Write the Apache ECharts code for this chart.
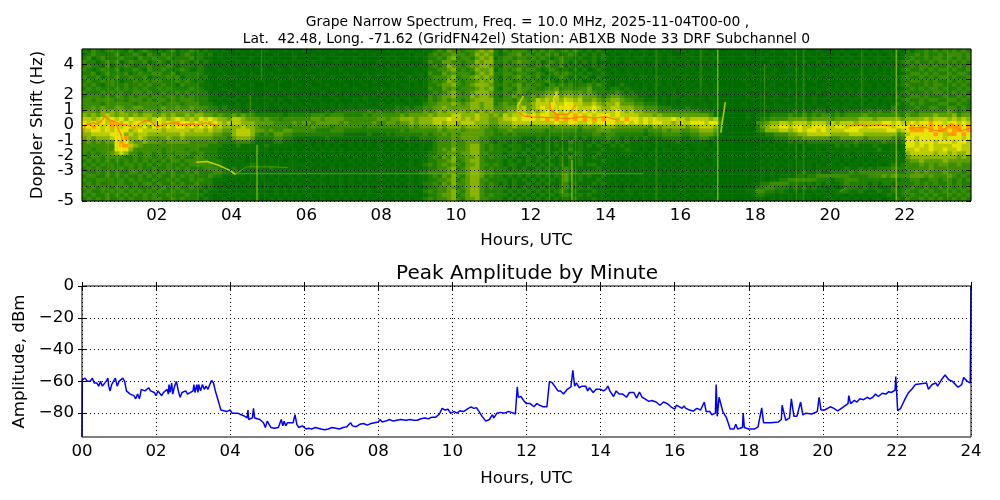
<!DOCTYPE html>
<html>
<head>
<meta charset="utf-8">
<style>
html, body { margin: 0; padding: 0; background: #fff; }
#chart { width: 1000px; height: 500px; }
</style>
<script src="https://cdn.jsdelivr.net/npm/echarts@6/dist/echarts.min.js"></script>
</head>
<body>
<div id="chart"></div>
<script>
// spectrogram intensity 0-9, one string per 0.25 Hz row from +5 Hz down to -5 Hz
// each group is 2 hours, each digit is 7.5 minutes
var specRows = [
  '2132123221312321 2123122321211010 0100100100010001 0010000100100000 0100101001123243 3233454521323332 3232322323212121 1011010110101001 1010110100000000 0001001000100100 0010010101011010 21223232323232',
  '1232212312232132 1322123212120101 0010010001000100 0100010000010010 0010010110232334 3323545421233423 2323231232121212 0101101010110100 0110101000000100 0010000100010010 0101001010101101 22323223233323',
  '2312312232213223 2231222312110100 1000100010000100 0001000100100000 0101000101223245 2332454512332332 3232123221211212 1010101101010110 1010110100000010 0100010010001000 0010100101110101 23223233232323',
  '3221232312322312 3212232121210010 0101000100010010 0100001000010001 0010110001322443 3233545522323433 2312323212121201 0110110100110101 0101001010000000 0001001000100101 0101010110101012 32322323323232',
  '2322131223212232 2232122212101001 0010010001001000 0010010001000010 0100101010232354 3234455421332332 2323223121211212 1001011010101010 0110101000000001 0010000100010010 0010110101011011 23233232232323',
  '3212322312232132 2321232112100100 0100001000100100 1000100100010000 0011010101223345 2323544512323423 3212321212120121 0110101101010101 1010100100000100 0100100010000101 0101001011010102 32232323323223',
  '2231232223123223 3223122222110010 0010100010000010 0001000010001001 0100100110322434 3332454522332332 2321232321212112 1010110101001011 0101011000000010 0001000100100010 1010101010110101 23323232232332',
  '3223122322322312 2232312221200101 1000010001001000 0100010001000100 0010011010233345 2334545421323423 2312123212121021 0101010110110100 1010100100000001 0010001000010100 0101010101011012 32232323323223',
  '2322323212232323 3222323212100010 0010001000100100 0010000100010010 0101001101232354 3233454521332332 3223212121201212 1011010101010101 0101101000000100 0100010010001001 0010101101010102 23323232232323',
  '3232123223223232 2322132221110100 0100100010000010 1000100010001000 0010110101223445 3234555422323423 2321323231223232 1012101010110101 1010110100000010 0001001000100010 0101010110101012 32223233223232',
  '2323222323232322 3232222322110010 0010000100100100 0100010000100010 1010010110322434 2333454521332433 3223342332334222 1221211010101010 0101010100000001 0010010001001001 0101101010110101 23232332322323',
  '3222323232233232 2322323222201001 1000100010010000 0001001000010001 0101100101232345 3234555422323432 3334453443434322 2232121101010110 1011010100000100 0001000100100100 1010101101010112 32223233223232',
  '2333232332323323 3233232322211010 0101000100001001 0100010010001010 1010110110323445 3335455421334333 4345564554544432 3443222110101011 0110101000000010 0100100010001001 0101011010101021 23323222322323',
  '3323333232333232 3323233322210101 1010010010100100 0010001000101001 0101011011323434 3234555522332443 4656565665644543 4554332211101010 1011101100000001 0001001001001010 1010110101011012 32232332233232',
  '3333233333323333 3233323332221010 0101100101010010 1001010101010101 1011101112334445 4345545523433544 5666766776655654 5564443322211010 1110110100000100 0100100010101001 0101101011010121 23232223322322',
  '3343433443344333 3433433433322121 1101010100101001 0101010101011010 1112121223344544 4445545533444564 5676767777666765 5665554433322211 1211110100000000 0010110101010110 1011010110110211 22322332233232',
  '4443545454443444 3444444434333222 2211211110101111 1111212222222323 2223233334345455 5545454544455665 6567676767676766 6676565544433333 3333222100000000 0101111121212221 1212222232322322 33233333343233',
  '5454565455454554 4545445455443433 4343322222212222 2333233322223233 3333434444545556 6555655454656676 7677687678767677 7676666555454444 4444443100000010 1112222322323233 2323333433333332 43344454445344',
  '6656767675766656 7656765657676554 6654443433233333 3443444433333334 4344555455566676 6565655445667677 7678787878787878 7767877676766676 6566665620000010 1223333444434444 3444445554555554 55556566656565',
  '7676768767677676 7676877676767656 6655544443333434 4344444343333343 3443445455566566 5666555445556666 6666676677667677 7766767676776656 6677767730000100 3345566566656665 6566656666677676 67677877677676',
  '7787678767776757 7676776767675655 5565543333332333 3433323333332333 3333334344445455 5455544334445444 4444344444344445 5544444443545555 5455666520000000 2456677677667776 6776777677777677 78787878788878',
  '6677676777567666 6566666566565544 5666544343344333 3322233322222222 2222323333334344 4344443323343333 3332333333233344 4333333323334344 3344555410000000 2355566567677676 6667776666667756 78887878878878',
  '5566667775656655 5555565555554433 5666532324433222 2222222211111211 1212222223233434 3444443322323222 2222222222222332 3322222212223333 2233444310000000 1122333445566666 5555666555555534 67777787688787',
  '4545556778556544 4454454444443332 4555422223322111 1111211111111111 1111121122223334 3444433222222211 1212112212121222 3221212121112222 1122332100000000 0111222333444444 3344444344444323 77677777677767',
  '3434344787544544 4344444333333222 2333211112211101 1010110101010101 0101011111123334 3344433212212112 1212121131211212 2121211111111112 1111110100000000 0010111212122222 2222232222232212 77677767776776',
  '3333333788654333 3333333333322211 1211111211111010 1010101001010101 1010101011123334 3345532322122211 2112121121212121 1212111111011011 1011110100000000 0101010110111111 1212121112111101 77676766667766',
  '3323333777533333 3233332332222111 1111111101010101 0101010100101010 0101010110123435 3345532322212212 1212112131211112 1111211010101101 0101101000000000 0010101010101101 1111111111211101 66766766766766',
  '3232334565332332 3232333223222111 1111010101010101 1010010101010101 1010101011223344 3445533222122121 2112121212211121 1101110101101010 1101010100000000 0101010101010110 1011011101111110 56666656656556',
  '3233233332232332 3233232233222111 1110101010101010 0101001010100101 0101011101232435 3344532322212112 1221212131211211 1110101101010101 0110101000000000 0010101010101011 0101101011011110 45555555555454',
  '2323232323232323 2323323333322211 1110101010101100 1010101001010101 1010101011223345 2345532222121212 1212112121211112 1101010110101010 1010100100000000 0101010101011010 1101011010111111 34454444544444',
  '3232323223323232 3232232333332211 1111211111111111 0101010100101010 0101011012323434 3244533232122112 2121212121212211 1010101101010101 0101010100000000 0010101101010101 1010110101101212 33343434433433',
  '2323223232323223 2232323222333211 2111111121111101 1010010101010101 1010101101223345 2345532322212121 1212121321111121 1101010110101010 1010101000000000 0101010101010111 1112112121222322 33333433333333',
  '3223232322332323 2323223232223322 2211111111111111 1111111111111111 1111111122333344 3345543322222222 2222122322122222 1111111111110101 0101010100000000 0101010111211211 2222323333333322 33434333433323',
  '2332232323223232 3223232322232211 1110101010101010 0101010101010101 0101011011232435 3245542322121212 1212122421212112 1010101101010101 1010101000000000 0101011112122333 3333222233343433 34443433343232',
  '3223323232323223 2232322323221110 1010101001010101 1010010101010101 1010101011223345 2345533222212121 2121212421211121 1101010110101010 0101010100000000 0101122333333222 1223332222222212 23322332332323',
  '2323223232232332 3223232232221101 0101010110101010 0101010101001010 0101011012232435 3345532321212112 1212112312111212 1010101101010101 1010101000000001 1223333222121212 1123222212122122 22323232232322',
  '3232322323232223 2322322322121010 1010010101010101 1010100101010101 1010101101223344 2345532322212121 2121212321212111 0110101010110101 0101010100000000 2233222121212110 1012221212111212 23223223232323',
  '2322323232323232 3223232221211001 0101101001010101 0101010101010100 0101011012323345 3245532222121212 1212123212111211 1010110101010101 1010101000000011 3322121010101010 1122112111211212 32232322323232',
  '3232232323232323 2232223222110100 1010010101010010 1010010101010101 1010101101223445 2345532322212121 2121212321212111 0101010110101010 0101011000000001 2211010101010101 0110101011012112 23223232232323',
  '2323232232322323 3223232221210010 0101010010101010 0101001010101010 0101010112323345 3244533222121212 1212121212111211 1010101010110101 1010100100000000 1101010101010010 1011010101101121 32232323223232'
];

// strong traces in the spectrogram, [hour, Hz]
var orangeTraces = [
  [[0.02, -1], [0.05, -0.3], [0.1, 0], [0.2, 0.05], [0.3, 0.15], [0.4, 0.05], [0.5, 0.2], [0.62, 0.6], [0.7, 0.35], [0.85, 0.25], [1.0, 0.05], [1.2, 0], [1.4, -0.2], [1.55, 0.1], [1.7, 0.3], [1.85, 0.2], [2.0, -0.15], [2.1, -0.05], [2.3, 0.1], [2.5, 0.15], [2.65, 0], [2.8, 0.05], [3.0, 0.05], [3.15, 0], [3.3, 0.15], [3.45, 0.05], [3.6, 0]],
  [[0.9, 0.1], [0.98, -0.3], [1.05, -0.7], [1.09, -1.1]],
  [[11.67, 0.85], [11.82, 0.58], [12.05, 0.53], [12.4, 0.5], [12.67, 0.47], [13, 0.42], [13.4, 0.55], [13.7, 0.45], [14, 0.55], [14.35, 0.3]],
  [[12.5, 1.58], [12.53, 1.0], [12.7, 0.7], [13, 0.7], [13.2, 1.3]],
  [[20.5, -0.05], [20.8, 0], [21, -0.05], [21.3, 0], [21.65, -0.05]],
  [[22.1, -0.2], [22.55, -0.15], [22.8, -0.35], [23, -0.4], [23.25, 0.1], [23.5, -0.4], [23.75, -0.2]]
];
var yellowTraces = [
  [[11.8, 1.9], [11.65, 1.25], [11.67, 0.85]],
  [[12.7, 2.2], [12.6, 1.7], [12.7, 1.0]],
  [[13.2, 1.2], [13, 1.0], [12.9, 1.8]],
  [[1.05, -1.2], [1.05, -1.9]],
  [[3.05, -2.45], [3.35, -2.4], [3.65, -2.65], [3.97, -3], [4.1, -3.25]]
];
var faintTraces = [
  [[1.3, -0.4], [1.5, -0.6], [1.9, -0.7], [2.0, -0.3]],
  [[4.1, -3.25], [4.4, -2.75], [4.65, -2.75], [5.1, -2.75], [5.5, -2.8]],
  [[4, -3.2], [15, -3.2]],
  [[20.25, -4.4], [20.45, -4.1]]
];

// vertical streaks, [hour, from Hz, to Hz]
var brightStreaks = [
  [17.0, -5, 5],
  [21.77, -5, 5],
  [13.1, -5, -2.3],
  [4.68, -5, -1.3]
];
var faintStreaks = [
  [0.7, -5, 5], [0.95, -5, 5], [12.5, -5, 5], [12.85, -5, 5], [13.2, -5, 5], [15.35, -5, 5],
  [16.55, 2, 5], [18.25, 0, 4], [19.1, -5, 5], [19.3, -5, 5], [4.8, 3, 5], [4.5, 0.5, 2],
  [12.85, -4.5, -2.5], [3.1, -5, 5], [2.4, -5, 5], [23.15, -5, 5], [20.85, 0, 5]
];
var slantStreak = [[17.08, -0.5], [17.2, 1.5]];

// peak amplitude, [hour, dBm]
var ampPoints = [
  [0, -95], [0.01, -59], [0.08, -58], [0.15, -60], [0.22, -60], [0.28, -58], [0.33, -61], [0.4, -61], [0.45, -63], [0.5, -60], [0.55, -63], [0.6, -64], [0.65, -60], [0.7, -58], [0.72, -63], [0.76, -66], [0.8, -62], [0.85, -63], [0.9, -58], [0.95, -63], [1.0, -60], [1.05, -61], [1.1, -58], [1.15, -60],
  [1.2, -66], [1.25, -67], [1.3, -68], [1.35, -67], [1.4, -69], [1.45, -71], [1.5, -68], [1.55, -71], [1.6, -65], [1.65, -66], [1.7, -66], [1.75, -65], [1.8, -64], [1.85, -66], [1.95, -67], [2.0, -69], [2.05, -66], [2.1, -67], [2.15, -69], [2.2, -67], [2.25, -66], [2.3, -65], [2.33, -68], [2.35, -62], [2.38, -67], [2.42, -61], [2.45, -68], [2.5, -63], [2.55, -60], [2.6, -66], [2.65, -70], [2.7, -67], [2.8, -66], [2.85, -68], [2.9, -68], [3.0, -66], [3.02, -62], [3.05, -67], [3.1, -62], [3.13, -67], [3.15, -62], [3.2, -66], [3.25, -62], [3.3, -65], [3.35, -63], [3.4, -65], [3.45, -62], [3.5, -59.5], [3.55, -61],
  [3.6, -66], [3.65, -70], [3.7, -74], [3.75, -78], [3.8, -79], [3.9, -79], [4.0, -78], [4.05, -80], [4.1, -79], [4.2, -80], [4.3, -81], [4.4, -82], [4.46, -83], [4.48, -78], [4.5, -84], [4.6, -83], [4.63, -77], [4.66, -83], [4.8, -84], [4.9, -86], [4.95, -89], [5.0, -85], [5.05, -86], [5.1, -89], [5.2, -89.5], [5.3, -89], [5.35, -88], [5.38, -84], [5.42, -88], [5.46, -85], [5.5, -88], [5.55, -86], [5.6, -87], [5.7, -86], [5.75, -81], [5.8, -87], [5.85, -89], [5.95, -88], [6.05, -90], [6.12, -89.5], [6.2, -90], [6.3, -89], [6.35, -89.5], [6.45, -90], [6.55, -90.5], [6.65, -90], [6.75, -89], [6.85, -89.5], [6.95, -90], [7.05, -89], [7.15, -88.5], [7.2, -88], [7.25, -86], [7.3, -88],
  [7.4, -88.5], [7.5, -87], [7.6, -86.5], [7.7, -87.5], [7.8, -86.5], [7.9, -86], [8.0, -85.5], [8.05, -84], [8.1, -85.5], [8.2, -85], [8.3, -84], [8.4, -85], [8.5, -84.5], [8.6, -84], [8.65, -85], [8.75, -84.5], [8.85, -84], [8.95, -84.5], [9.05, -84.5], [9.15, -83.5], [9.25, -83], [9.35, -83.5], [9.45, -82.5], [9.55, -82.5], [9.65, -80.5], [9.72, -77], [9.8, -78], [9.88, -77.5], [9.95, -80], [10.05, -79], [10.12, -80], [10.2, -78.5], [10.3, -79], [10.4, -77.5], [10.5, -76], [10.58, -77], [10.65, -76.5], [10.72, -79], [10.8, -82], [10.9, -85], [11.0, -84], [11.08, -81], [11.12, -83], [11.2, -80], [11.3, -79.5], [11.4, -80], [11.5, -79], [11.6, -79.5], [11.7, -80.5],
  [11.75, -63.5], [11.78, -70], [11.85, -69.5], [11.92, -72], [12, -74], [12.1, -74], [12.2, -76], [12.28, -74], [12.35, -75], [12.45, -76], [12.55, -76], [12.62, -60], [12.7, -61], [12.75, -60.5], [12.85, -66], [12.92, -66], [13, -68], [13.1, -65], [13.2, -63.5], [13.25, -53], [13.3, -63], [13.35, -61], [13.42, -64], [13.5, -63], [13.6, -63], [13.65, -66], [13.7, -64], [13.8, -67], [13.88, -65], [14, -65], [14.08, -66], [14.14, -65], [14.2, -63], [14.25, -66], [14.35, -69.5], [14.42, -66], [14.5, -68], [14.6, -68], [14.7, -70], [14.78, -67], [14.9, -67], [14.97, -70.5], [15.05, -66.7], [15.12, -70], [15.2, -71], [15.3, -72.6], [15.38, -72], [15.5, -73], [15.6, -75], [15.7, -73], [15.8, -74], [15.9, -76], [16, -77.5],
  [16.05, -75], [16.1, -75.5], [16.2, -77], [16.25, -75.5], [16.3, -77], [16.4, -78], [16.5, -78.7], [16.6, -77], [16.7, -78], [16.75, -79], [16.8, -73], [16.85, -79], [16.95, -79], [17, -81], [17.1, -80], [17.12, -62], [17.15, -82], [17.2, -70], [17.3, -79], [17.4, -83], [17.5, -90], [17.6, -90], [17.65, -87], [17.7, -90], [17.83, -89], [17.85, -80], [17.88, -89], [18, -90], [18.15, -90], [18.25, -88.6], [18.35, -76.7], [18.4, -86], [18.45, -87], [18.6, -86], [18.8, -85.5], [18.88, -84], [18.9, -75], [19.0, -84.5], [19.1, -83], [19.15, -71], [19.22, -82], [19.3, -82], [19.4, -73], [19.46, -81], [19.55, -80], [19.7, -80.5], [19.85, -79], [19.9, -70], [19.95, -78],
  [20.05, -78], [20.1, -77], [20.2, -76], [20.3, -77], [20.4, -78.5], [20.5, -77], [20.55, -76], [20.68, -74], [20.7, -69], [20.75, -74], [20.85, -72], [20.92, -73], [21, -71], [21.1, -71.5], [21.2, -70], [21.27, -71], [21.35, -70], [21.42, -68], [21.5, -69.5], [21.6, -67.5], [21.7, -68], [21.78, -66.5], [21.85, -67], [21.95, -65.5], [21.97, -57], [22.02, -78.5], [22.1, -77], [22.2, -72], [22.3, -67.5], [22.4, -65], [22.5, -62], [22.65, -61.5], [22.8, -61], [22.85, -65], [22.95, -62], [23.05, -61], [23.1, -63], [23.2, -59], [23.3, -56], [23.4, -59], [23.5, -60], [23.65, -63.7], [23.75, -62], [23.8, -57.5], [23.9, -60], [23.98, -61], [24, 0]
];

// axis ticks
var specHourTicks = [2, 4, 6, 8, 10, 12, 14, 16, 18, 20, 22];
var ampHourTicks = [0, 2, 4, 6, 8, 10, 12, 14, 16, 18, 20, 22, 24];
var dopplerTicks = [-5, -4, -3, -2, -1, 0, 1, 2, 3, 4];
var ampTicks = [-80, -60, -40, -20, 0];

var titleLines = [
  'Grape Narrow Spectrum, Freq. = 10.0 MHz, 2025-11-04T00-00 ,',
  'Lat.  42.48, Long. -71.62 (GridFN42el) Station: AB1XB Node 33 DRF Subchannel 0'
];
var lastSpecHour = 23.77;

var fontName = 'DejaVu Sans';
var hourBins = [];
var dopplerBins = [];
var specData = [];
specRows.forEach(function (row, r) {
  var digits = row.replace(/ /g, '');
  dopplerBins.push(r);
  digits.split('').forEach(function (d, c) {
    if (r === 0) hourBins.push(c);
    specData.push([c, specRows.length - 1 - r, +d]);
  });
});

function pad2(v) {
  return (v < 10 ? '0' : '') + v;
}

// value axis with the inward ticks and dotted grid of the original
function valueAxis(gridIndex, min, max, ticks, position, extra) {
  var axis = {
    type: 'value',
    gridIndex: gridIndex,
    position: position,
    min: min,
    max: max,
    z: 5,
    axisLine: { show: false },
    axisTick: { show: true, inside: true, length: 4, customValues: ticks, lineStyle: { color: '#000', width: 1 } },
    axisLabel: { show: false },
    splitLine: { show: false }
  };
  return Object.assign(axis, extra || {});
}

function labelled(ticks, formatter) {
  return {
    show: true,
    customValues: ticks,
    formatter: formatter,
    showMinLabel: true,
    showMaxLabel: true,
    hideOverlap: false,
    color: '#000',
    fontFamily: fontName,
    fontSize: 16.67,
    lineHeight: 13,
    margin: 8
  };
}

var dotted = { show: true, lineStyle: { color: '#000', type: [1, 3], width: 1 } };

var nameStyle = { color: '#000', fontFamily: fontName, fontSize: 16.67 };

function pathSeries(path, color, width, opacity) {
  return {
    type: 'line',
    xAxisIndex: 1,
    yAxisIndex: 1,
    data: path,
    showSymbol: false,
    silent: true,
    z: 3,
    lineStyle: { color: color, width: width, opacity: opacity }
  };
}

function streakPath(s) {
  return [[s[0], s[1]], [s[0], s[2]]];
}

var series = [{
  type: 'heatmap',
  xAxisIndex: 0,
  yAxisIndex: 0,
  data: specData,
  progressive: 0,
  silent: true,
  z: 2
}];
faintStreaks.forEach(function (s) { series.push(pathSeries(streakPath(s), '#a8c800', 1, 0.35)); });
brightStreaks.forEach(function (s) { series.push(pathSeries(streakPath(s), '#dce400', 1, 0.8)); });
series.push(pathSeries(slantStreak, '#c8dc00', 1.5, 0.9));
faintTraces.forEach(function (p) { series.push(pathSeries(p, '#a4c400', 1, 0.45)); });
yellowTraces.forEach(function (p) { series.push(pathSeries(p, '#f2ec00', 1.5, 0.75)); });
orangeTraces.forEach(function (p) { series.push(pathSeries(p, '#ff7a00', 1.3, 0.95)); });
series.push({
  type: 'line',
  xAxisIndex: 3,
  yAxisIndex: 3,
  data: ampPoints,
  showSymbol: false,
  silent: true,
  z: 6,
  lineStyle: { color: '#0000ff', width: 1.5 }
});

var myChart = echarts.init(document.querySelector('#chart'), null, { renderer: 'canvas' });
var option = {
  animation: false,
  backgroundColor: '#fff',
  title: [
    { text: titleLines[0], left: 522.5, top: 10, textAlign: 'center', textStyle: { color: '#000', fontFamily: fontName, fontSize: 13.89, fontWeight: 'normal' } },
    { text: titleLines[1], left: 521.5, top: 27, textAlign: 'center', textStyle: { color: '#000', fontFamily: fontName, fontSize: 13.89, fontWeight: 'normal' } },
    { text: 'Peak Amplitude by Minute', left: 522, top: 259, textAlign: 'center', textStyle: { color: '#000', fontFamily: fontName, fontSize: 20, fontWeight: 'normal' } }
  ],
  grid: [
    { left: 82, right: 29, top: 49, height: 152, show: true, z: 7, borderColor: '#000', borderWidth: 1, backgroundColor: 'transparent' },
    { left: 82, right: 29, top: 286, height: 151, show: true, z: 7, borderColor: '#000', borderWidth: 1, backgroundColor: 'transparent' }
  ],
  visualMap: {
    show: false,
    type: 'continuous',
    seriesIndex: 0,
    min: 0,
    max: 9,
    inRange: { color: ['#006c00', '#0a7200', '#1f7f00', '#3a8c00', '#5c9e00', '#88b400', '#b8cc00', '#e6e400', '#ff9c00', '#ff5a00'] }
  },
  xAxis: [
    { type: 'category', gridIndex: 0, show: false, data: hourBins },
    valueAxis(0, 0, lastSpecHour, specHourTicks, 'bottom', {
      axisLabel: labelled(specHourTicks, pad2),
      splitLine: dotted,
      name: 'Hours, UTC',
      nameLocation: 'middle',
      nameGap: 31,
      nameTextStyle: nameStyle
    }),
    valueAxis(0, 0, lastSpecHour, specHourTicks, 'top'),
    valueAxis(1, 0, 24, ampHourTicks, 'bottom', {
      axisLabel: labelled(ampHourTicks, pad2),
      splitLine: dotted,
      name: 'Hours, UTC',
      nameLocation: 'middle',
      nameGap: 33,
      nameTextStyle: nameStyle
    }),
    valueAxis(1, 0, 24, ampHourTicks, 'top')
  ],
  yAxis: [
    { type: 'category', gridIndex: 0, show: false, data: dopplerBins },
    valueAxis(0, -5, 5, dopplerTicks, 'left', {
      axisLabel: labelled(dopplerTicks, function (v) { return String(v); }),
      splitLine: dotted,
      name: 'Doppler Shift (Hz)',
      nameLocation: 'middle',
      nameGap: 25,
      nameTextStyle: nameStyle
    }),
    valueAxis(0, -5, 5, dopplerTicks, 'right'),
    valueAxis(1, -95, 0, ampTicks, 'left', {
      axisLabel: labelled(ampTicks, function (v) { return String(v).replace('-', '\u2212'); }),
      splitLine: dotted,
      name: 'Amplitude, dBm',
      nameLocation: 'middle',
      nameGap: 39,
      nameTextStyle: nameStyle
    }),
    valueAxis(1, -95, 0, ampTicks, 'right')
  ],
  series: series
};
myChart.setOption(option);
</script>
</body>
</html>
